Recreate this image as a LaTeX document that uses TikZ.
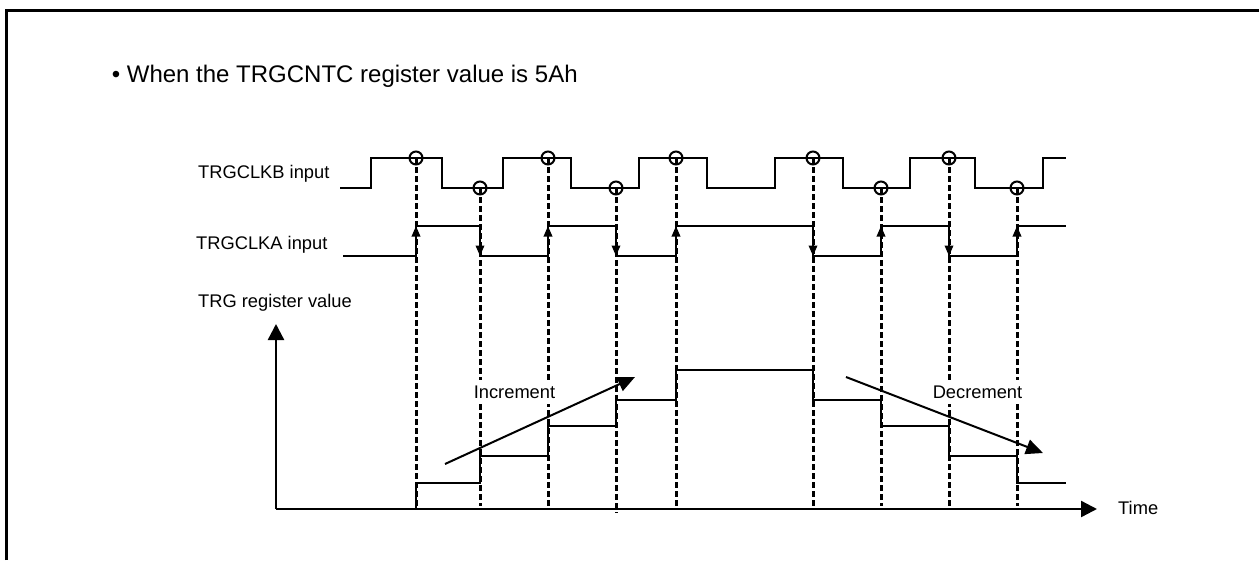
\documentclass[tikz,border=0pt]{standalone}
\usepackage{fontspec}
\setmainfont{Liberation Sans}
\usetikzlibrary{arrows.meta}
\tikzset{
  sig/.style={line width=2pt,line join=miter},
  stepline/.style={line width=2pt},
  guide/.style={line width=3pt,dash pattern=on 6pt off 3pt},
  edgemark/.style={circle,draw,line width=2pt,minimum size=13pt,inner sep=0pt},
  edgearrow/.style={line width=1.8pt,-{Triangle[length=10.5pt,width=8.5pt]}},
  axis/.style={line width=2.4pt,-{Triangle[length=16pt,width=16pt]}},
  trend/.style={line width=2pt,-{Triangle[length=17pt,width=15pt]}},
  lbl/.style={inner sep=0pt,font=\fontsize{18.3}{21}\selectfont},
  ttl/.style={inner sep=0pt,font=\fontsize{24}{28}\selectfont},
  masklbl/.style={lbl,fill=white,minimum height=24pt,inner xsep=0.5pt},
}
\begin{document}
\begin{tikzpicture}[x=1pt,y=-1pt]
\useasboundingbox (0,0) rectangle (1259,560);
\draw[line width=3pt] (6.5,560) |- (1259,10.5);
\node[ttl,anchor=west] (title) at (111.6,76.6) {• When the TRGCNTC register value is 5Ah};
\node[lbl,anchor=west] (lb) at (198,173.4) {TRGCLKB input};
\node[lbl,anchor=west] (la) at (196,245.2) {TRGCLKA input};
\node[lbl,anchor=west] (lr) at (198,302.6) {TRG register value};
\node[lbl,anchor=west] (ltime) at (1118,508.3) {Time};
% axes
\coordinate (o) at (276,509);
\coordinate (ytip) at (276,324);
\coordinate (xtip) at (1097,509);
\draw[axis] (o) -- (ytip);
\draw[axis] (o) -- (xtip);
% CLKB
\draw[sig] (340,188) -| (371,158) -| (442,188) -| (503,158) -| (571,188) -| (639,158) -| (707,188) -| (775,158) -| (843,188) -| (910,158) -| (975,188) -| (1043,158) -- (1066,158);
% CLKA
\draw[sig] (343,256) -| (416,226) -| (480,256) -| (548,226) -| (616,256) -| (676,226) -| (813,256) -| (881,226) -| (949,256) -| (1017,226) -- (1066,226);
% register steps
\draw[stepline] (416,509) |- (480,483) |- (548,456) |- (616,426) |- (676,400) |- (813,370) |- (881,400) |- (949,426) |- (1017,456) |- (1066,483);
% guides and edge marks
\foreach \n/\x/\y/\e in {a/416/158/506,b/480/188/506,c/548/158/510,d/616/188/513,e/676/158/510,f/813/158/510,g/881/188/506,h/949/158/510,i/1017/188/506}{
  \node[edgemark] (m\n) at (\x,\y) {};
  \coordinate (g\n) at (\x,\e);
  \draw[guide] (m\n.center) -- (g\n);
}
% edge arrows
\foreach \x in {416,548,676,881,1017}{\draw[edgearrow] (\x,250) -- (\x,226);}
\foreach \x in {480,616,813,949}{\draw[edgearrow] (\x,231) -- (\x,256);}
% labels that mask the guides
\node[masklbl] (linc) at (514.5,392) {Increment};
\node[masklbl] (ldec) at (977.5,392) {Decrement};
% trends
\coordinate (i1) at (445,464); \coordinate (i2) at (635,377);
\coordinate (d1) at (846,377); \coordinate (d2) at (1043,453);
\draw[trend] (i1) -- (i2);
\draw[trend] (d1) -- (d2);
\end{tikzpicture}
\end{document}
